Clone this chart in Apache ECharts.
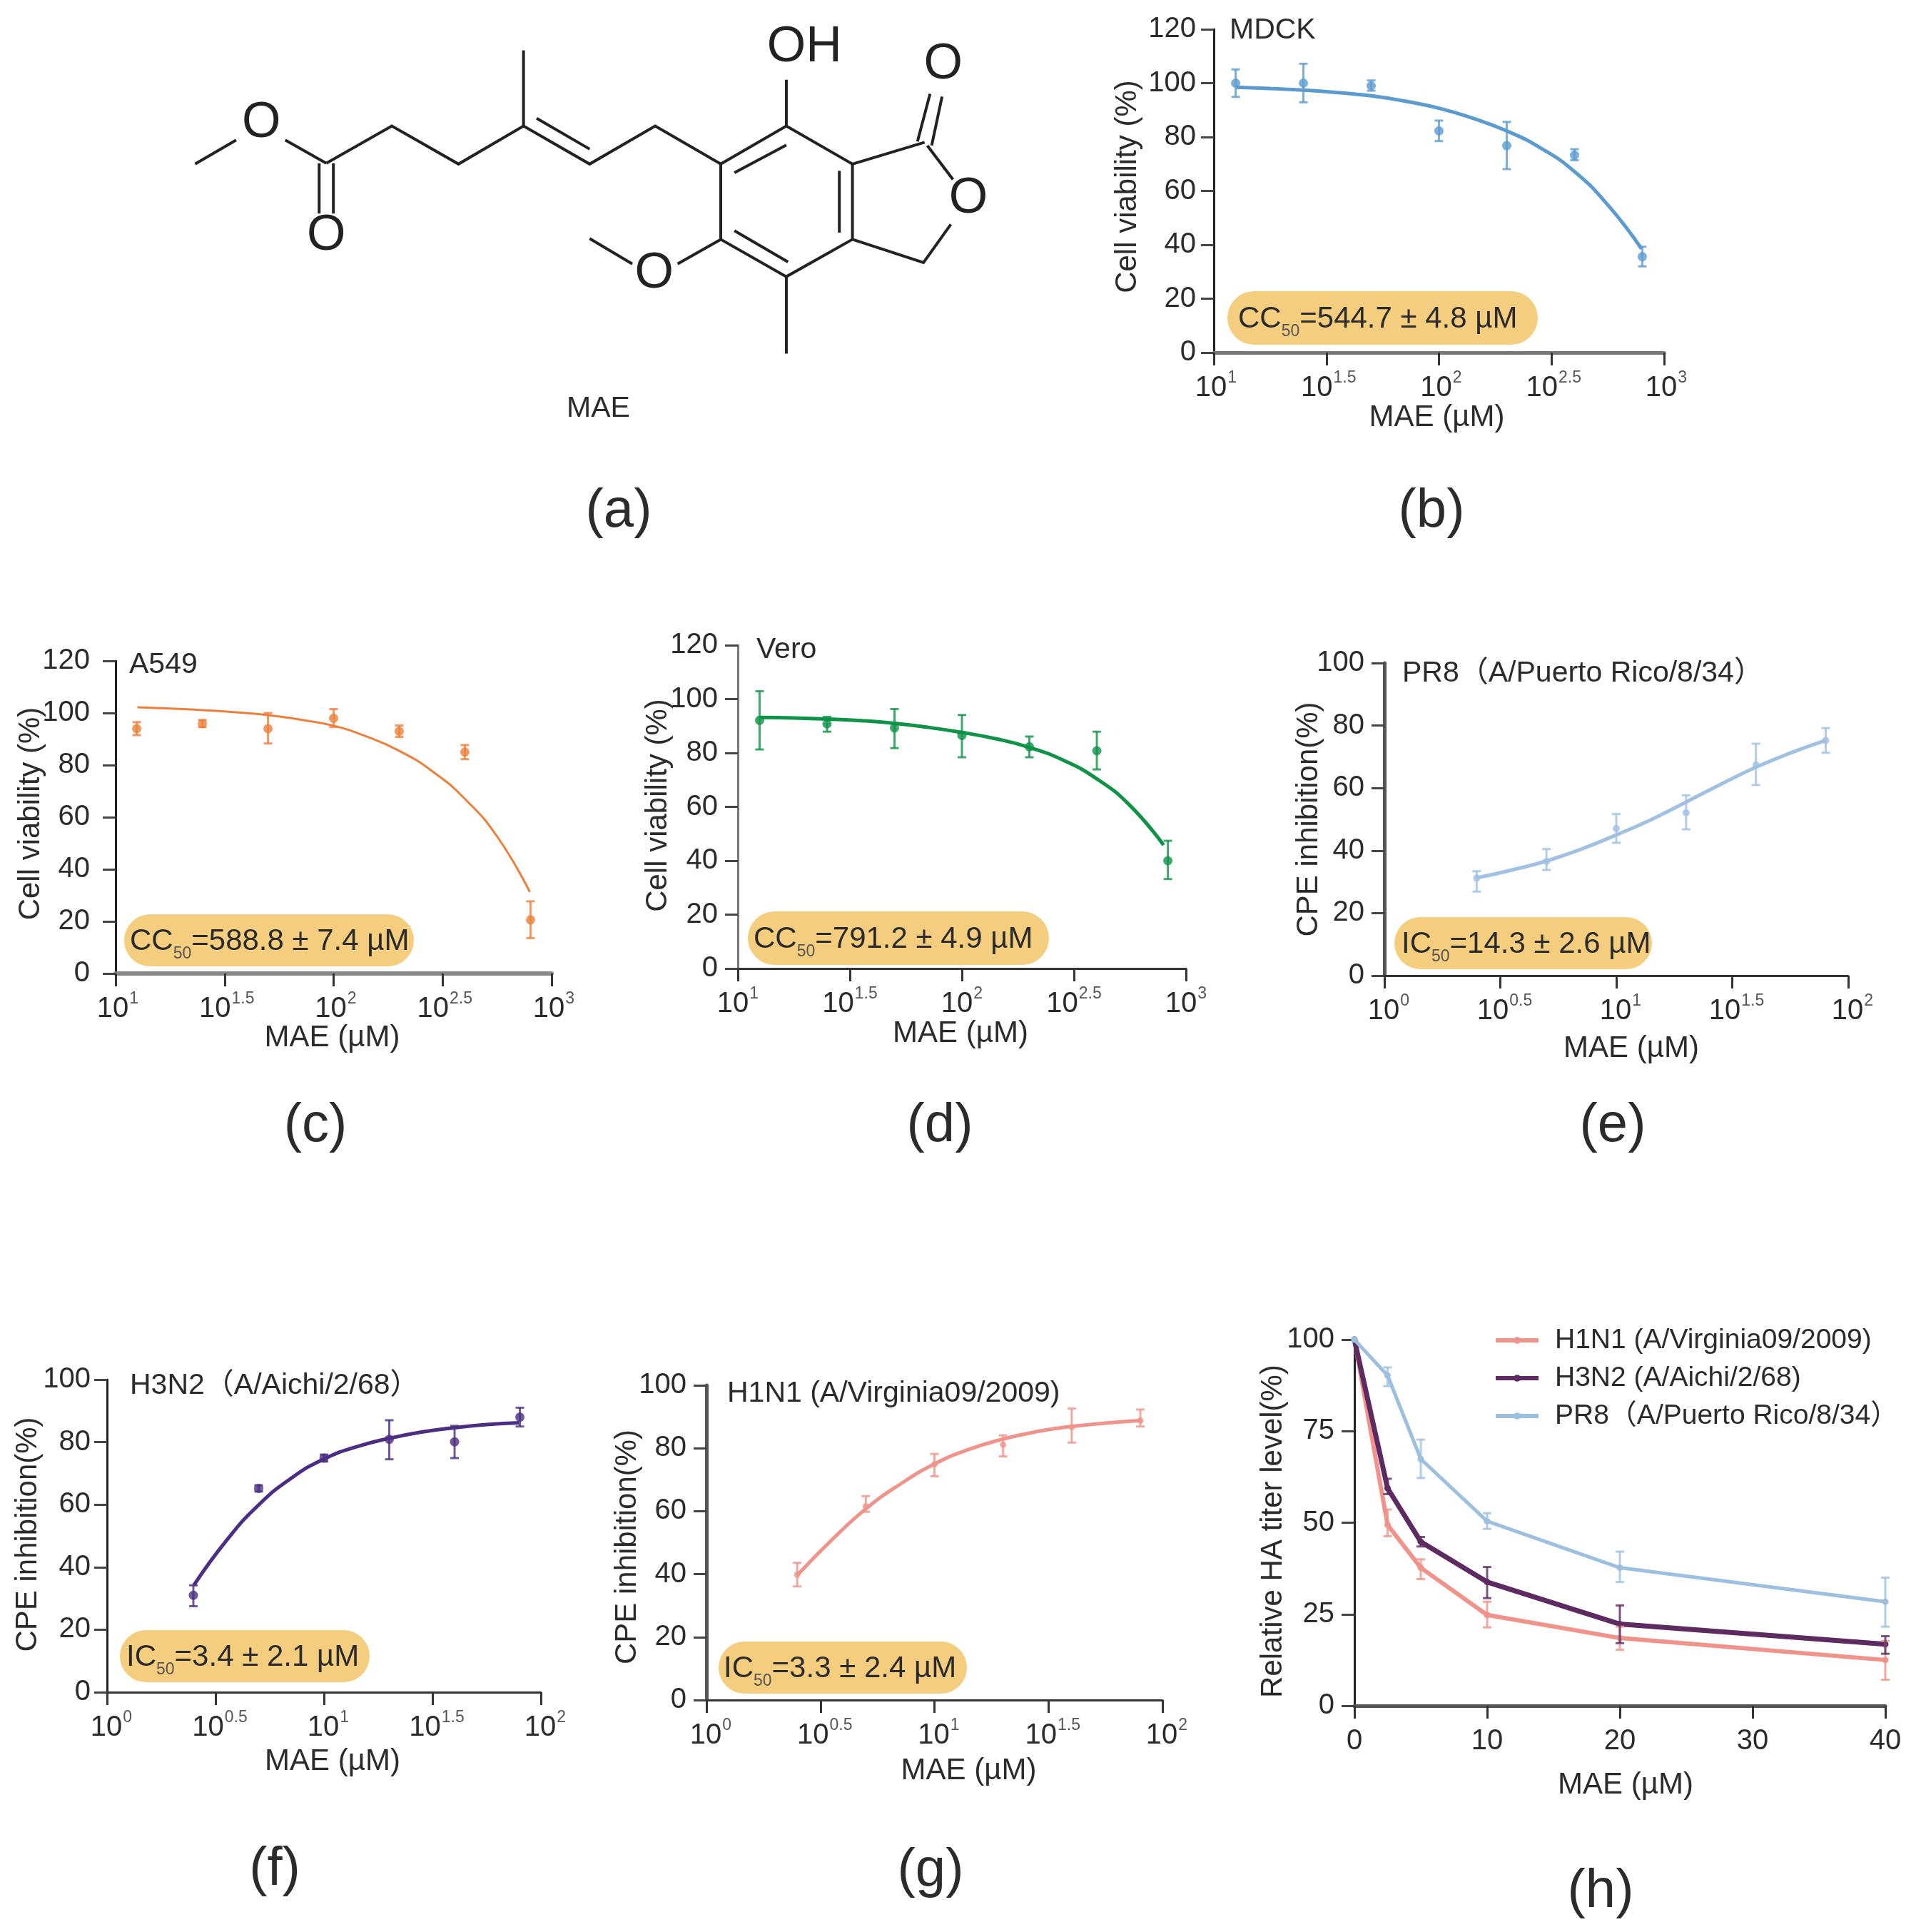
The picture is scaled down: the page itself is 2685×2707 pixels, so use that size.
<!DOCTYPE html>
<html><head><meta charset="utf-8">
<style>html,body{margin:0;padding:0;background:#fff}#c{width:2685px;height:2707px}</style>
<script src="https://cdn.jsdelivr.net/npm/echarts@6/dist/echarts.min.js"></script>
</head><body><div id="c"></div>
<script>
// ---------- data ----------
const concCC = [12.5, 25, 50, 100, 200, 400, 800];
const concVero = [12.5, 25, 50, 100, 200, 400, 830];
const concIC = [2.5, 5, 10, 20, 40, 80];
const concHA = [0, 2.5, 5, 10, 20, 40];

const ccFitX = [1.10, 1.25, 1.40, 1.55, 1.70, 1.85, 2.0, 2.15, 2.30, 2.45, 2.60, 2.75, 2.90];
const icFitX = [0.40, 0.55, 0.70, 0.85, 1.0, 1.15, 1.30, 1.45, 1.60, 1.75, 1.90];

const mdckMean = [100, 100, 99, 82.3, 76.8, 73.3, 35.6];
const mdckHigh = [105.1, 107.2, 101, 86.1, 85.6, 75.5, 39.3];
const mdckLow  = [94.9, 92.9, 97.2, 78.5, 68.1, 71.4, 32];
const mdckFitY = [98.5, 98, 97.4, 96.5, 95.3, 93.3, 90.7, 87, 82.3, 76, 67.3, 54.8, 38.5];

const a549Mean = [94, 95.9, 94, 98, 93, 85, 20.6];
const a549High = [96.5, 97.3, 100, 101.5, 95.2, 87.7, 27.7];
const a549Low  = [91.5, 94.6, 88.3, 94.6, 90.8, 82.3, 13.6];
const a549FitY = [102.2, 101.7, 101.1, 100.3, 99.2, 97.4, 95.1, 91, 85.5, 77.8, 67.2, 52.6, 31.3];

const veroMean = [92.1, 90.8, 89.3, 86.5, 82.3, 80.8, 40];
const veroHigh = [102.9, 93.4, 96.3, 94.1, 86.1, 87.9, 47.4];
const veroLow  = [81.3, 87.9, 81.8, 78.4, 78.4, 73.9, 33.2];
const veroFitY = [93.2, 93, 92.6, 92, 91, 89.5, 87.6, 85.3, 82.1, 77.4, 70.5, 60.5, 45.8];

const pr8Mean = [31.2, 36.5, 47.1, 52.1, 67.4, 75.2];
const pr8High = [33.4, 40.5, 51.7, 57.7, 74.2, 79.2];
const pr8Low  = [26.9, 33.8, 42.5, 46.8, 61, 71.3];
const pr8FitY = [31.3, 33.8, 36.7, 40.5, 45, 49.9, 55.5, 61.2, 66.6, 71.2, 75.2];

const h3n2Mean = [31, 65.2, 74.9, 80.9, 80.1, 88];
const h3n2High = [34.2, 66.2, 76, 87, 85.2, 91];
const h3n2Low  = [27.5, 64.2, 73.8, 74.5, 74.9, 85];
const h3n2FitY = [34.2, 48.5, 60, 68.5, 74.6, 78.5, 81.2, 83.2, 84.6, 85.6, 86.2];

const h1n1Mean = [39.8, 61.5, 74.9, 81.1, 86.7, 88.8];
const h1n1High = [43.6, 64.8, 78.2, 84.1, 92.6, 92.3];
const h1n1Low  = [36.1, 59.8, 71.1, 77.4, 81.8, 86.9];
const h1n1FitY = [39.8, 50.9, 60.8, 68.6, 75, 79.6, 82.9, 85.3, 86.9, 88, 88.8];

const haH1n1Mean = [100, 49.4, 37.7, 24.8, 18.5, 12.5];
const haH1n1High = [100, 53.6, 40, 28.4, 21.6, 17.7];
const haH1n1Low  = [100, 46.3, 34.6, 21.4, 15.3, 7.1];
const haH3n2Mean = [100, 59.4, 44.8, 33.8, 22.3, 16.8];
const haH3n2High = [100, 62, 46.1, 37.9, 27.4, 19];
const haH3n2Low  = [100, 57.8, 43.5, 29.4, 17.1, 14.2];
const haPr8Mean = [100, 90.2, 67.4, 50.4, 37.7, 28.4];
const haPr8High = [100, 92.4, 72.7, 52.6, 42.1, 35];
const haPr8Low  = [100, 87.3, 62.2, 48.3, 33.8, 21.6];

const h1n1Name = 'H1N1 (A/Virginia09/2009)';
const h3n2Name = 'H3N2 (A/Aichi/2/68)';
const pr8Name  = 'PR8（A/Puerto Rico/8/34）';
const h3n2Title = 'H3N2（A/Aichi/2/68）';

// ---------- helpers ----------
const FONT = '"Liberation Sans","Noto Sans CJK SC",Arial,sans-serif';
const INK = '#2b2b2b';
const PILL = '#f4cd7f';
const grid = [], xAxis = [], yAxis = [], series = [], graphic = [];

function errSeries(idx, xs, hi, lo, color, w) {
  return {
    type: 'custom', xAxisIndex: idx, yAxisIndex: idx, silent: true, z: 3, clip: false,
    data: xs.map((x, i) => [x, lo[i], hi[i]]),
    renderItem(p, api) {
      const a = api.coord([api.value(0), api.value(1)]);
      const b = api.coord([api.value(0), api.value(2)]);
      const st = {stroke: color, lineWidth: w, opacity: 0.8};
      const cap = 6;
      return {type: 'group', children: [
        {type: 'line', shape: {x1: a[0], y1: a[1], x2: b[0], y2: b[1]}, style: st},
        {type: 'line', shape: {x1: a[0]-cap, y1: a[1], x2: a[0]+cap, y2: a[1]}, style: st},
        {type: 'line', shape: {x1: b[0]-cap, y1: b[1], x2: b[0]+cap, y2: b[1]}, style: st}
      ]};
    }
  };
}
function logTick(v) {
  const s = String(Math.round(v * 10) / 10);
  return '{b|10}{s|' + s + '}';
}
const tickRich = {
  b: {fontSize: 40, fontFamily: FONT, color: INK, lineHeight: 46, verticalAlign: 'bottom'},
  s: {fontSize: 23, fontFamily: FONT, color: '#555', lineHeight: 46, verticalAlign: 'top', padding: [0, 0, 0, 1]}
};
function addAxes(p) {
  const idx = grid.length;
  grid.push({left: p.l, top: p.t, width: p.r - p.l, height: p.b - p.t, show: false, containLabel: false});
  xAxis.push({
    type: 'value', gridIndex: idx, min: p.xMin, max: p.xMax, interval: p.xInt, splitLine: {show: false},
    name: 'MAE (µM)', nameLocation: 'middle', nameGap: p.xGap, nameMoveOverlap: false,
    nameTextStyle: {fontSize: 42, fontFamily: FONT, color: INK, padding: [0, p.xOff > 0 ? 0 : -2 * p.xOff, 0, p.xOff > 0 ? 2 * p.xOff : 0]},
    axisLine: {show: true, onZero: false, lineStyle: {color: p.xc || '#333', width: p.xw || 3}},
    axisTick: {show: true, length: 18, lineStyle: {color: '#333', width: 3}},
    axisLabel: p.linear
      ? {margin: 30, fontSize: 40, fontFamily: FONT, color: INK, showMinLabel: true, showMaxLabel: true}
      : {margin: 24, formatter: logTick, rich: tickRich, padding: [0, 0, 0, p.lp || 0], showMinLabel: true, showMaxLabel: true, hideOverlap: false}
  });
  yAxis.push({
    type: 'value', gridIndex: idx, min: 0, max: p.yMax, interval: p.yInt, splitLine: {show: false},
    name: p.yName, nameLocation: 'middle', nameGap: p.yGap, nameMoveOverlap: false,
    // rotated text: left padding lifts the name along the axis, right padding lowers it
    nameTextStyle: {fontSize: 42, fontFamily: FONT, color: INK, padding: [0, p.yOff < 0 ? -2 * p.yOff : 0, 0, p.yOff > 0 ? 2 * p.yOff : 0]},
    axisLine: {show: true, onZero: false, lineStyle: {color: p.yc || '#222', width: p.yw || 3}},
    axisTick: {show: true, length: 18, lineStyle: {color: '#444', width: 3}},
    axisLabel: {margin: p.ym || 28, fontSize: 40, fontFamily: FONT, color: INK, showMinLabel: true, showMaxLabel: true}
  });
  return idx;
}
function addDose(p, conc, mean, hi, lo, fx, fy, color, lw) {
  const idx = addAxes(p);
  const xs = conc.map(c => Math.log10(c));
  series.push({type: 'line', xAxisIndex: idx, yAxisIndex: idx, smooth: 0.5, showSymbol: false, silent: true, z: 2,
    lineStyle: {color, width: lw}, itemStyle: {color}, data: fx.map((x, i) => [x, fy[i]])});
  series.push(errSeries(idx, xs, hi, lo, color, 3));
  series.push({type: 'scatter', xAxisIndex: idx, yAxisIndex: idx, symbol: 'circle', symbolSize: p.dot || 13, silent: true, z: 4,
    itemStyle: {color}, data: xs.map((x, i) => [x, mean[i]])});
  if (p.title) graphic.push({type: 'text', left: p.title[1], top: p.title[2] - 19, z: 10,
    style: {text: p.title[0], fontSize: 41, fontFamily: FONT, fill: INK, lineHeight: 42}});
  if (p.pill) {
    const [x0, x1, y0, y1, tx, pre, rest] = p.pill;
    graphic.push({type: 'rect', shape: {x: x0, y: y0, width: x1 - x0, height: y1 - y0, r: (y1 - y0) / 2}, style: {fill: PILL}, z: 9});
    graphic.push({type: 'text', x: tx, y: (y0 + y1) / 2 + 6, z: 10, style: {
      text: '{a|' + pre + '}{s|50}{a|' + rest + '}', verticalAlign: 'middle', align: 'left',
      rich: {
        a: {fontSize: 42, fontFamily: FONT, fill: INK, lineHeight: 50, verticalAlign: 'top'},
        s: {fontSize: 23, fontFamily: FONT, fill: '#555', lineHeight: 50, verticalAlign: 'bottom'}
      }
    }});
  }
}

// ---------- panels ----------
const ccBase = {xMin: 1, xMax: 3, xInt: 0.5, yMax: 120, yInt: 20, yName: 'Cell viability (%)'};
const icBase = {xMin: 0, xMax: 2, xInt: 0.5, yMax: 100, yInt: 20, yName: 'CPE inhibition(%)'};

addDose({...ccBase, l: 1701, r: 2332, t: 41, b: 494, xGap: 70, xOff: -3, yGap: 100, yOff: 6, xc: '#777', xw: 5, lp: 6, ym: 25,
  title: ['MDCK', 1723, 41], pill: [1720, 2155, 408, 483, 1735, 'CC', '=544.7 ± 4.8 µM']},
  concCC, mdckMean, mdckHigh, mdckLow, ccFitX, mdckFitY, '#5b9bd0', 5);
addDose({...ccBase, l: 162, r: 773, t: 926, b: 1364, xGap: 69, xOff: -2, yGap: 98, yOff: 5, xc: '#888', xw: 6, lp: 6, ym: 36,
  title: ['A549', 181, 930], pill: [174, 580, 1281, 1354, 182, 'CC', '=588.8 ± 7.4 µM']},
  concCC, a549Mean, a549High, a549Low, ccFitX, a549FitY, '#ee7f3a', 3);
addDose({...ccBase, l: 1034, r: 1662, t: 904, b: 1357, xGap: 70, xOff: -2, yGap: 91, yOff: 2, yc: '#777',
  title: ['Vero', 1060, 909], pill: [1048, 1470, 1277, 1352, 1056, 'CC', '=791.2 ± 4.9 µM']},
  concVero, veroMean, veroHigh, veroLow, ccFitX, veroFitY, '#0e9347', 5);
addDose({...icBase, l: 1940, r: 2590, t: 929, b: 1367, xGap: 81, xOff: 21, yGap: 85, yOff: 0, yc: '#555', yw: 5, dot: 10, lp: 12,
  title: [pr8Name, 1965, 942], pill: [1954, 2315, 1285, 1358, 1964, 'IC', '=14.3 ± 2.6 µM']},
  concIC, pr8Mean, pr8High, pr8Low, icFitX, pr8FitY, '#a0c1e3', 5);
addDose({...icBase, l: 150, r: 758, t: 1933, b: 2371, xGap: 76, xOff: 12, yGap: 90, yOff: 2, lp: 12, ym: 23,
  title: [h3n2Title, 182, 1940], pill: [168, 518, 2284, 2357, 177, 'IC', '=3.4 ± 2.1 µM']},
  concIC, h3n2Mean, h3n2High, h3n2Low, icFitX, h3n2FitY, '#4b2e83', 5);
addDose({...icBase, l: 990, r: 1629, t: 1941, b: 2382, xGap: 78, xOff: 48, yGap: 90, yOff: -6, yc: '#555', yw: 5, dot: 9, lp: 12,
  title: [h1n1Name, 1019, 1951], pill: [1007, 1355, 2300, 2373, 1014, 'IC', '=3.3 ± 2.4 µM']},
  concIC, h1n1Mean, h1n1High, h1n1Low, icFitX, h1n1FitY, '#f0938a', 5);

const hIdx = addAxes({l: 1898, r: 2642, t: 1877, b: 2390, xMin: 0, xMax: 40, xInt: 10, yMax: 100, yInt: 25,
  yName: 'Relative HA titer level(%)', xGap: 90, xOff: 8, yGap: 93, yOff: -12, linear: true, xc: '#555', xw: 5});
[[h1n1Name, haH1n1Mean, haH1n1High, haH1n1Low, '#f0938a', 6],
 [h3n2Name, haH3n2Mean, haH3n2High, haH3n2Low, '#5e2a62', 7],
 [pr8Name, haPr8Mean, haPr8High, haPr8Low, '#9dbfe0', 5]].forEach(([name, m, hi, lo, color, w]) => {
  series.push({type: 'line', name, xAxisIndex: hIdx, yAxisIndex: hIdx, symbol: 'circle', symbolSize: 9, silent: true, z: 2, clip: false,
    lineStyle: {color, width: w}, itemStyle: {color}, data: concHA.map((x, i) => [x, m[i]])});
  series.push(errSeries(hIdx, concHA.slice(1), hi.slice(1), lo.slice(1), color, 3));
});

// ---------- panel (a): structure drawing, zoom-crop coordinates mapped to the page ----------
const S = (x, y) => [239 + x / 1.306, 21 + y / 2.624];
const bondPaths = [
  [[45,548],[120,460]], [[210,460],[285,545]],
  [[272,545],[272,730]], [[298,545],[298,730]],
  [[285,545],[405,408],[527,548],[646,408],[767,548],[887,408],[1007,548]],
  [[646,408],[646,130]], [[670,380],[767,493]],
  [[1007,548],[1127,408],[1248,548],[1248,825],[1127,962],[1007,825],[1007,548]],
  [[1032,580],[1127,478]], [[1224,573],[1224,800]], [[1032,793],[1130,908]],
  [[1127,408],[1127,238]], [[1248,548],[1380,468]],
  [[1367,465],[1390,290]], [[1393,480],[1412,300]],
  [[1385,480],[1432,605]], [[1428,770],[1378,910],[1248,825]],
  [[1007,825],[928,915]], [[845,915],[767,822]], [[1127,962],[1127,1245]]
];
const atomLabels = [['O',166,388],['O',285,803],['OH',1160,110],['O',1414,172],['O',1460,665],['O',885,940]];
bondPaths.forEach(path => graphic.push({type: 'polyline', z: 5,
  shape: {points: path.map(p => S(p[0], p[1]))}, style: {stroke: '#222', lineWidth: 4, fill: null, lineJoin: 'miter'}}));
atomLabels.forEach(([t, x, y]) => { const q = S(x, y); graphic.push({type: 'text', x: q[0], y: q[1] + 4, z: 5,
  style: {text: t, fontSize: 70, fontFamily: FONT, fill: '#222', align: 'center', verticalAlign: 'middle'}}); });
graphic.push({type: 'text', x: S(783,1437)[0], y: S(783,1437)[1] + 4, z: 5,
  style: {text: 'MAE', fontSize: 41, fontFamily: FONT, fill: INK, align: 'center', verticalAlign: 'middle'}});

// ---------- panel letters ----------
const panelLetters = [['(a)',867,717],['(b)',2006,717],['(c)',442,1578],['(d)',1317,1578],['(e)',2260,1578],['(f)',385,2620],['(g)',1304,2622],['(h)',2243,2651]];
panelLetters.forEach(([t, x, y]) => graphic.push({type: 'text', x, y, z: 5,
  style: {text: t, fontSize: 76, fontFamily: FONT, fill: INK, align: 'center', verticalAlign: 'middle'}}));

const chart = echarts.init(document.getElementById('c'), null, {renderer: 'canvas', width: 2685, height: 2707});
chart.setOption({
  animation: false, backgroundColor: '#fff',
  grid, xAxis, yAxis, series, graphic,
  legend: {
    orient: 'vertical', left: 2088, top: 1850, itemWidth: 60, itemHeight: 12, itemGap: 7,
    data: [h1n1Name, h3n2Name, pr8Name], selectedMode: false,
    lineStyle: {width: 6},
    textStyle: {fontSize: 39, fontFamily: FONT, color: INK, lineHeight: 46, padding: [0, 0, 0, 18]}
  }
});
</script></body></html>
